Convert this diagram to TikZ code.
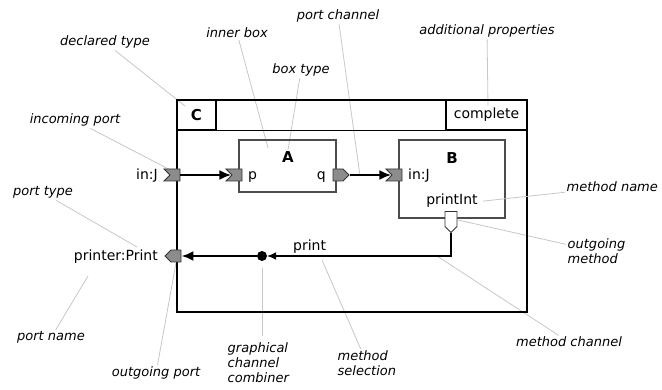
\documentclass[tikz,border=0pt]{standalone}
\usepackage{fontspec}
\setmainfont{DejaVu Sans}[ItalicFont={DejaVu Sans Oblique},BoldFont={DejaVu Sans Bold},BoldItalicFont={DejaVu Sans Bold Oblique}]
\usetikzlibrary{arrows.meta,shapes.symbols,positioning}

\begin{document}
\begin{tikzpicture}[x=1pt,y=-1pt, every text node part/.style={align=left}]
        \tikzset{
          box/.style={draw=black!70,line width=1.3pt,inner sep=0pt},
          outer/.style={draw=black,line width=1.3pt,inner sep=0pt},
          port/.style={signal,draw=black!80,fill=black!45,line width=0.9pt,inner sep=0pt,
                       minimum width=16pt,minimum height=12pt},
          inport/.style={port,signal to=nowhere,signal from=west},
          outport/.style={port,signal to=east},
          mport/.style={port,signal to=south,fill=white,minimum width=12pt,minimum height=15pt},
          txt/.style={font=\fontsize{14}{16}\selectfont,inner sep=1pt},
          btxt/.style={font=\fontsize{15}{17}\selectfont\bfseries,inner sep=1pt},
          lbl/.style={font=\fontsize{13}{15}\selectfont\itshape,inner sep=1.5pt},
          lead/.style={draw=black!22,line width=0.8pt},
          chan/.style={line width=2.8pt,-{Latex[length=12pt,width=10pt]}},
          mchan/.style={line width=1.2pt,-{Latex[length=9pt,width=8pt]}},
        }
        \useasboundingbox (0,0) rectangle (662,390);
        % labels
        \node [lbl,anchor=base] (dty) at (105,46) {declared type};
        \node [lbl,anchor=base] (ibx) at (237,38) {inner box};
        \node [lbl,anchor=base] (bty) at (301,74) {box type};
        \node [lbl,anchor=base] (pch) at (338,20) {port channel};
        \node [lbl,anchor=base] (adp) at (487,35) {additional properties};
        \node [lbl,anchor=base] (inp) at (75,124) {incoming port};
        \node [lbl,anchor=base] (pty) at (43,196) {port type};
        \node [lbl,anchor=base] (pnm) at (51,341) {port name};
        \node [lbl,anchor=base] (oup) at (156,377) {outgoing port};
        \node [lbl,anchor=north west] (gcc) at (226,341) {graphical\\channel\\combiner};
        \node [lbl,anchor=north west] (msl) at (336,349) {method\\selection};
        \node [lbl,anchor=base] (mch) at (569,347) {method channel};
        \node [lbl,anchor=north west] (omt) at (566,237) {outgoing\\method};
        \node [lbl,anchor=base west] (mnm) at (565,192) {method name};
        % leader ends
        \coordinate (dtyT) at (185,106);
        \coordinate (ibxT) at (268,148);
        \coordinate (pchT) at (360,176);
        \coordinate (adpT) at (488,106);
        \coordinate (inpT) at (180,175);
        \coordinate (ptyT) at (137,247);
        \coordinate (pnmT) at (88,276);
        \coordinate (oupT) at (176,263);
        \coordinate (gccT) at (262,336);
        \coordinate (mslT) at (322,260);
        \coordinate (mchT) at (437,256);
        \coordinate (omtT) at (458,220);
        \draw [lead] (dty) -- (dtyT);
        \draw [lead] (ibx) -- (ibxT);
        \draw [lead] (bty) -- (288,150);
        \draw [lead] (pch) -- (pchT);
        \draw [lead] (adp) -- (adpT);
        \draw [lead] (inp) -- (inpT);
        \draw [lead] (pty) -- (ptyT);
        \draw [lead] (pnm) -- (pnmT);
        \draw [lead] (oup) -- (oupT);
        \draw [lead] (gccT) -- (262,268);
        \draw [lead] (msl) -- (mslT);
        \draw [lead] (mch) -- (mchT);
        \draw [lead] (omt) -- (omtT);
        % outer box C
        \node [outer,minimum width=350pt,minimum height=212pt] (C) at (352,206) {};
        \node [outer,btxt,anchor=north west,minimum width=39pt,minimum height=30pt] (Cty) at (C.north west) {C};
        \node [outer,txt,anchor=north east,minimum width=81pt,minimum height=30pt] (prop) at (C.north east) {complete};
        \draw [line width=1.3pt] (Cty.south west) -- (prop.south east);
        % inner boxes
        \node [box,minimum width=97pt,minimum height=52pt] (A) at (287.5,166) {};
        \node [btxt,anchor=base] (Aty) at (288,163) {A};
        \node [box,minimum width=106pt,minimum height=78pt] (B) at (452,179) {};
        \node [btxt,anchor=base] (Bty) at (452,164) {B};
        % ports
        \node [inport] (Cin) at (175,175) {};
        \node [inport] (Ap) at (237,175) {};
        \node [outport] (Aq) at (338,175) {};
        \node [inport] (Bin) at (397,175) {};
        \node [mport] (Bm) at (451,219) {};
        \node [outport,signal to=west] (Cout) at (176,256) {};
        \node [circle,fill,inner sep=0pt,minimum size=10pt] (comb) at (262,256) {};
        % port texts
        \node [txt,anchor=base east] (CinL) at (159,180) {in:J};
        \node [txt,anchor=base west] (pL) at (247,180) {p};
        \node [txt,anchor=base east] (qL) at (327,180) {q};
        \node [txt,anchor=base west] (BinL) at (407,180) {in:J};
        \node [txt,anchor=base] (pInt) at (452,205) {printInt};
        \node [txt,anchor=base west] (prt) at (292,251) {print};
        \node [txt,anchor=base east] (CoutL) at (159,261) {printer:Print};
        \draw [lead] (mnm) -- ([xshift=4pt]pInt.east);
        % channels
        \draw [chan] (Cin.east) -- (Ap.west);
        \draw [chan] (Aq.east) -- (Bin.west);
        \draw [mchan] (Bm.south) |- (comb.east);
        \draw [chan] (comb) -- (Cout.east);
\end{tikzpicture}
\end{document}
